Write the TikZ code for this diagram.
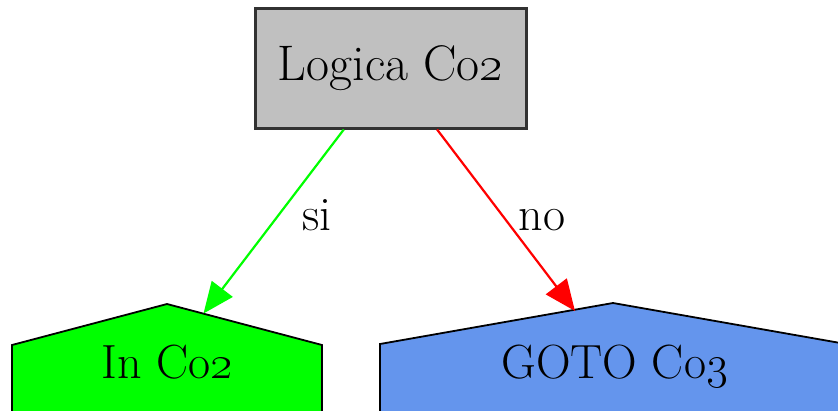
\RequirePackage{fix-cm}
\documentclass[tikz,border=0pt]{standalone}
\usepackage{tikz}
\usetikzlibrary{arrows.meta,calc,positioning}
\definecolor{grisCaja}{RGB}{192,192,192}
\definecolor{grisBorde}{RGB}{50,50,50}
\definecolor{verde}{RGB}{0,255,0}
\definecolor{azul}{RGB}{100,149,237}
\definecolor{rojo}{RGB}{255,0,0}
\tikzstyle{edge}  =[line width=2.2pt,
                    >={Triangle[length=31pt,width=26pt]}]
\tikzstyle{caja}  =[rectangle, draw=grisBorde, fill=grisCaja,
                    line width=3pt, minimum width=271pt,
                    minimum height=120pt, inner sep=0pt,
                    font=\fontsize{50}{60}\selectfont]
\tikzstyle{casa}  =[draw=black, line width=1.8pt, line join=miter]
\tikzstyle{texto} =[inner sep=0pt, anchor=base,
                    font=\fontsize{48}{58}\selectfont]

\begin{document}
\begin{tikzpicture}[x=1pt,y=-1pt]
    \useasboundingbox (0,0) rectangle (838,410);
    \clip (0,0) rectangle (838,410);

    % casas de abajo
    \draw[casa,fill=verde] (12,420) -- (12,345) -- (167,304) -- (322,345) -- (322,420) -- cycle;
    \draw[casa,fill=azul] (380,420) -- (380,344) -- (613,303) -- (846,344) -- (846,420) -- cycle;
    \draw (167.5,378) node(inco)[texto]{In Co\oldstylenums{2}};
    \draw (615,378) node(gotoco)[texto]{GOTO Co\oldstylenums{3}};
    \coordinate (inco-top) at (203.5,313.5);
    \coordinate (gotoco-top) at (575,311);

    % caja de arriba
    \draw (390.5,68) node(logica)[caja]{Logica Co\oldstylenums{2}};

    \draw [edge,verde,->] (logica) -- (inco-top);
    \draw [edge,rojo,->] (logica) -- (gotoco-top);
    \draw (317,230) node(si)[texto]{si};
    \draw (542,230) node(no)[texto]{no};
\end{tikzpicture}
\end{document}
